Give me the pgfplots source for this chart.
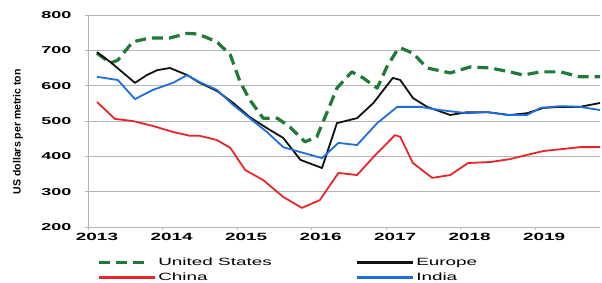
\documentclass[border=0pt]{standalone}
\usepackage{fontspec}
\setmainfont{Liberation Sans}
\newfontfamily\widefont[FakeStretch=1.8]{Liberation Sans}
\usepackage{pgfplots}
\pgfplotsset{compat=1.18}
\pgfplotsset{thicklegend/.style={legend image code/.code={\fill[##1, draw=none] (0pt,-1.4pt) rectangle (56pt,1.4pt);}}}
\definecolor{usgreen}{HTML}{1F7A35}
\definecolor{eublack}{HTML}{111111}
\definecolor{cnred}{HTML}{E8262A}
\definecolor{inblue}{HTML}{1E6FDC}
\definecolor{gridgray}{HTML}{B4B4B4}
\begin{document}
\begin{tikzpicture}
\path[use as bounding box] (-88pt,-56pt) rectangle (514pt,227pt);
\begin{axis}[
  scale only axis,
  width=512pt, height=212pt,
  xmin=2013, xmax=2019.87,
  ymin=200, ymax=800,
  axis lines=left,
  axis line style={gridgray, line width=0.8pt, -},
  xtick={2013,2014,2015,2016,2017,2018,2019},
  xticklabels={2013,2014,2015,2016,2017,2018,2019},
  ytick={200,300,400,500,600,700,800},
  yticklabels={200,300,400,500,600,700,800},
  tick align=outside,
  major tick length=3pt,
  tick style={gridgray, line width=0.8pt},
  ymajorgrids=true,
  grid style={gridgray, line width=0.8pt},
  xticklabel style={font=\widefont\bfseries\fontsize{10.5}{12}\selectfont, xshift=9pt},
  yticklabel style={font=\widefont\bfseries\fontsize{10}{12}\selectfont, xshift=-10pt},
  ylabel={US dollars per metric ton},
  ylabel style={font=\bfseries\fontsize{10.5}{12}\selectfont, at={(axis description cs:-0.137,0.45)}, anchor=center},
  legend columns=2,
  legend cell align=left,
  legend style={draw=none, fill=none, at={(axis description cs:0.0176,0)}, anchor=north west, yshift=-29pt,
    font=\widefont\fontsize{10.5}{11}\selectfont, row sep=2pt, inner sep=0pt,
    /tikz/every odd column/.append style={column sep=1.5pt},
    /tikz/every even column/.append style={column sep=83pt}},
  legend image code/.code={\draw[#1] (0pt,0pt) -- (48pt,0pt);},
  line join=round,
]
\addplot[usgreen, line width=3.2pt, dash pattern=on 11pt off 6pt] coordinates {
(2013.12,692) (2013.30,664) (2013.40,672) (2013.60,724) (2013.83,735) (2014.10,735) (2014.33,748) (2014.48,746)
(2014.73,724) (2014.91,687) (2015.04,611) (2015.17,560) (2015.35,508) (2015.54,508) (2015.71,483) (2015.91,441)
(2016.07,455) (2016.22,531) (2016.34,593) (2016.54,639) (2016.69,622) (2016.88,593) (2017.01,653) (2017.15,701)
(2017.19,707) (2017.36,692) (2017.55,650) (2017.86,636) (2018.13,653) (2018.40,650) (2018.66,639) (2018.84,630)
(2019.07,639) (2019.34,639) (2019.60,625) (2019.87,625)};
\addlegendentry{United States}
\addplot[eublack, line width=1.8pt, thicklegend] coordinates {
(2013.12,695) (2013.30,667) (2013.63,608) (2013.79,630) (2013.93,644) (2014.10,650) (2014.33,630) (2014.50,608)
(2014.73,585) (2014.95,551) (2015.17,511) (2015.40,480) (2015.62,452) (2015.85,390) (2016.14,367) (2016.34,494)
(2016.61,508) (2016.83,551) (2017.09,622) (2017.19,616) (2017.36,565) (2017.55,540) (2017.86,517) (2018.09,525)
(2018.36,525) (2018.66,517) (2018.89,522) (2019.11,537) (2019.34,540) (2019.60,540) (2019.87,551)};
\addlegendentry{Europe}
\addplot[cnred, line width=1.8pt, thicklegend] coordinates {
(2013.12,554) (2013.36,506) (2013.60,500) (2013.87,486) (2014.14,469) (2014.37,458) (2014.50,458) (2014.73,446)
(2014.91,424) (2015.11,361) (2015.35,333) (2015.62,285) (2015.87,254) (2016.11,276) (2016.36,353) (2016.61,347)
(2016.83,398) (2017.12,460) (2017.19,455) (2017.36,381) (2017.62,339) (2017.86,347) (2018.10,381) (2018.40,384)
(2018.66,392) (2018.89,404) (2019.11,415) (2019.38,421) (2019.60,426) (2019.87,426)};
\addlegendentry{China}
\addplot[inblue, line width=1.8pt, thicklegend] coordinates {
(2013.12,625) (2013.40,616) (2013.63,562) (2013.87,588) (2014.14,608) (2014.33,630) (2014.50,610) (2014.73,588)
(2014.95,545) (2015.17,508) (2015.40,469) (2015.62,426) (2015.85,412) (2016.14,395) (2016.36,438) (2016.61,432)
(2016.88,494) (2017.15,540) (2017.46,540) (2017.72,531) (2018.09,522) (2018.36,525) (2018.62,517) (2018.89,517)
(2019.07,537) (2019.34,542) (2019.60,540) (2019.87,531)};
\addlegendentry{India}
\end{axis}
\end{tikzpicture}
\end{document}
